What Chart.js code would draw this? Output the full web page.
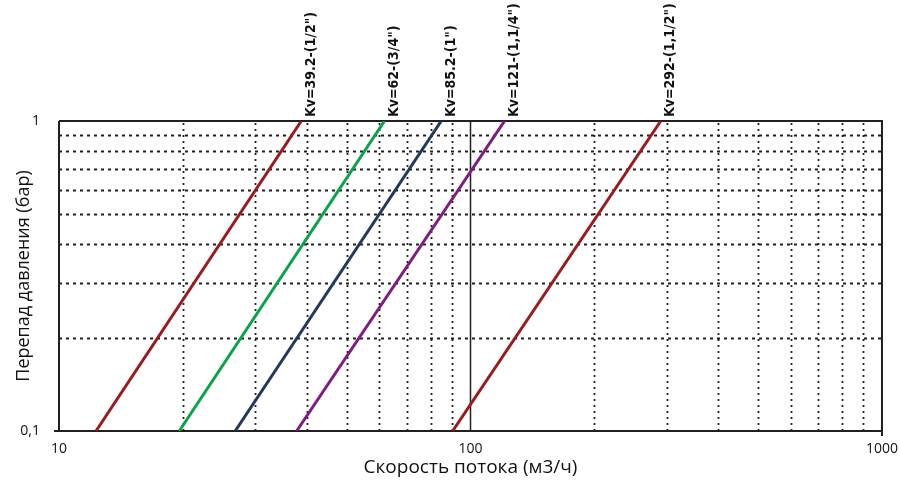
<!DOCTYPE html>
<html>
<head>
<meta charset="utf-8">
<script src="https://cdn.jsdelivr.net/npm/chart.js@4/dist/chart.umd.min.js"></script>
<style>
  html, body { margin: 0; padding: 0; background: #fff; }
  #wrap { width: 900px; height: 481px; position: relative; }
</style>
</head>
<body>
<div id="wrap"><canvas id="chart"></canvas></div>
<script>
// line labels (Kv values and pipe sizes)
const kvLabels = ['Kv=39.2-(1/2")', 'Kv=62-(3/4")', 'Kv=85.2-(1")', 'Kv=121-(1,1/4")', 'Kv=292-(1,1/2")'];
// flow at the bottom (0,1 bar) and top (1 bar) of each line
const flowLow = [12.3, 19.6, 26.8, 37.8, 90.5];
const flowHigh = [38.8, 61.8, 84.9, 121, 290];
const pressure = [0.1, 1];
const lineColors = ["#981c1f", "#0ca24a", "#1e3a5c", "#7e1c7f", "#981c1f"];

// x ticks that get a text label
const xTickLabels = [10, 100, 1000];

const gridColor = "#231f20";

let datasets = kvLabels.map(function (name, i) {
  return {
    label: name,
    data: [
      { x: flowLow[i], y: pressure[0] },
      { x: flowHigh[i], y: pressure[1] },
    ],
    borderColor: lineColors[i],
    backgroundColor: lineColors[i],
    borderWidth: 3,
    pointRadius: 0,
    fill: false,
  };
});

// dotted grid, solid line at 100, frame, line labels
const gridPlugin = {
  id: "grid",
  beforeDatasetsDraw(chart) {
    const ctx = chart.ctx;
    const area = chart.chartArea;
    const xs = chart.scales.x;
    const ys = chart.scales.y;
    ctx.save();
    ctx.strokeStyle = gridColor;
    ctx.lineWidth = 1.8;
    // horizontal
    ctx.setLineDash([3, 4]);
    for (let v = 0.2; v < 0.95; v += 0.1) {
      let py = Math.round(ys.getPixelForValue(v)) + 0.5;
      ctx.beginPath();
      ctx.moveTo(area.left, py);
      ctx.lineTo(area.right, py);
      ctx.stroke();
    }
    // vertical
    ctx.setLineDash([2, 4]);
    [10, 100].forEach(function (dec) {
      for (let k = 2; k <= 9; k++) {
        let px = Math.round(xs.getPixelForValue(dec * k)) + 0.5;
        ctx.beginPath();
        ctx.moveTo(px, area.bottom);
        ctx.lineTo(px, area.top);
        ctx.stroke();
      }
    });
    ctx.setLineDash([]);
    ctx.lineWidth = 1.5;
    let p100 = Math.round(xs.getPixelForValue(100)) + 0.5;
    ctx.beginPath();
    ctx.moveTo(p100, area.top);
    ctx.lineTo(p100, area.bottom);
    ctx.stroke();
    ctx.lineWidth = 2;
    ctx.beginPath();
    ctx.moveTo(area.left, area.top);
    ctx.lineTo(area.right, area.top);
    ctx.lineTo(area.right, area.bottom + 5);
    ctx.moveTo(area.left - 5, area.bottom);
    ctx.lineTo(area.right, area.bottom);
    ctx.moveTo(area.left, area.top);
    ctx.lineTo(area.left, area.bottom);
    ctx.stroke();
    ctx.restore();
  },
  afterDatasetsDraw(chart) {
    const ctx = chart.ctx;
    const xs = chart.scales.x;
    const ys = chart.scales.y;
    ctx.save();
    ctx.fillStyle = "#111";
    ctx.font = "bold 14px 'DejaVu Sans Condensed', 'Liberation Sans Narrow', sans-serif";
    ctx.textAlign = "left";
    ctx.textBaseline = "middle";
    kvLabels.forEach(function (name, i) {
      let px = xs.getPixelForValue(flowHigh[i]) + 10;
      let py = ys.getPixelForValue(pressure[1]) - 4;
      ctx.save();
      ctx.translate(px, py);
      ctx.rotate(-Math.PI / 2);
      ctx.fillText(name, 0, 0);
      ctx.restore();
    });
    ctx.restore();
  },
};

new Chart(document.getElementById("chart"), {
  type: "line",
  data: { datasets: datasets },
  options: {
    responsive: true,
    maintainAspectRatio: false,
    animation: false,
    layout: { padding: { top: 121, right: 16, left: 0, bottom: 0 } },
    plugins: { legend: { display: false }, tooltip: { enabled: false } },
    scales: {
      x: {
        type: "logarithmic",
        min: 10,
        max: 1000,
        grid: { display: false },
        border: { display: false },
        afterFit: function (scale) { scale.height = 50; },
        ticks: {
          autoSkip: false,
          maxRotation: 0,
          color: "#111",
          padding: 2,
          font: { family: "'Open Sans', sans-serif", size: 14 },
          callback: function (v) { return xTickLabels.includes(v) ? String(v) : ""; },
        },
        title: {
          display: true,
          text: "Скорость потока (м3/ч)",
          color: "#111",
          font: { family: "'Open Sans', sans-serif", size: 19 },
          padding: { top: 0, bottom: 2 },
        },
      },
      y: {
        type: "logarithmic",
        min: 0.1,
        max: 1,
        grid: { display: false },
        border: { display: false },
        afterFit: function (scale) { scale.width = 59; },
        ticks: {
          autoSkip: false,
          color: "#111",
          padding: 11,
          font: { family: "'Open Sans', sans-serif", size: 14 },
          callback: function (v) {
            if (v === 0.1) return "0,1";
            if (v === 1) return "1";
            return "";
          },
        },
        title: {
          display: true,
          text: "Перепад давления (бар)",
          color: "#111",
          font: { family: "'Open Sans', sans-serif", size: 18 },
          padding: { top: 13, bottom: 0 },
        },
      },
    },
  },
  plugins: [gridPlugin],
});
</script>
</body>
</html>
